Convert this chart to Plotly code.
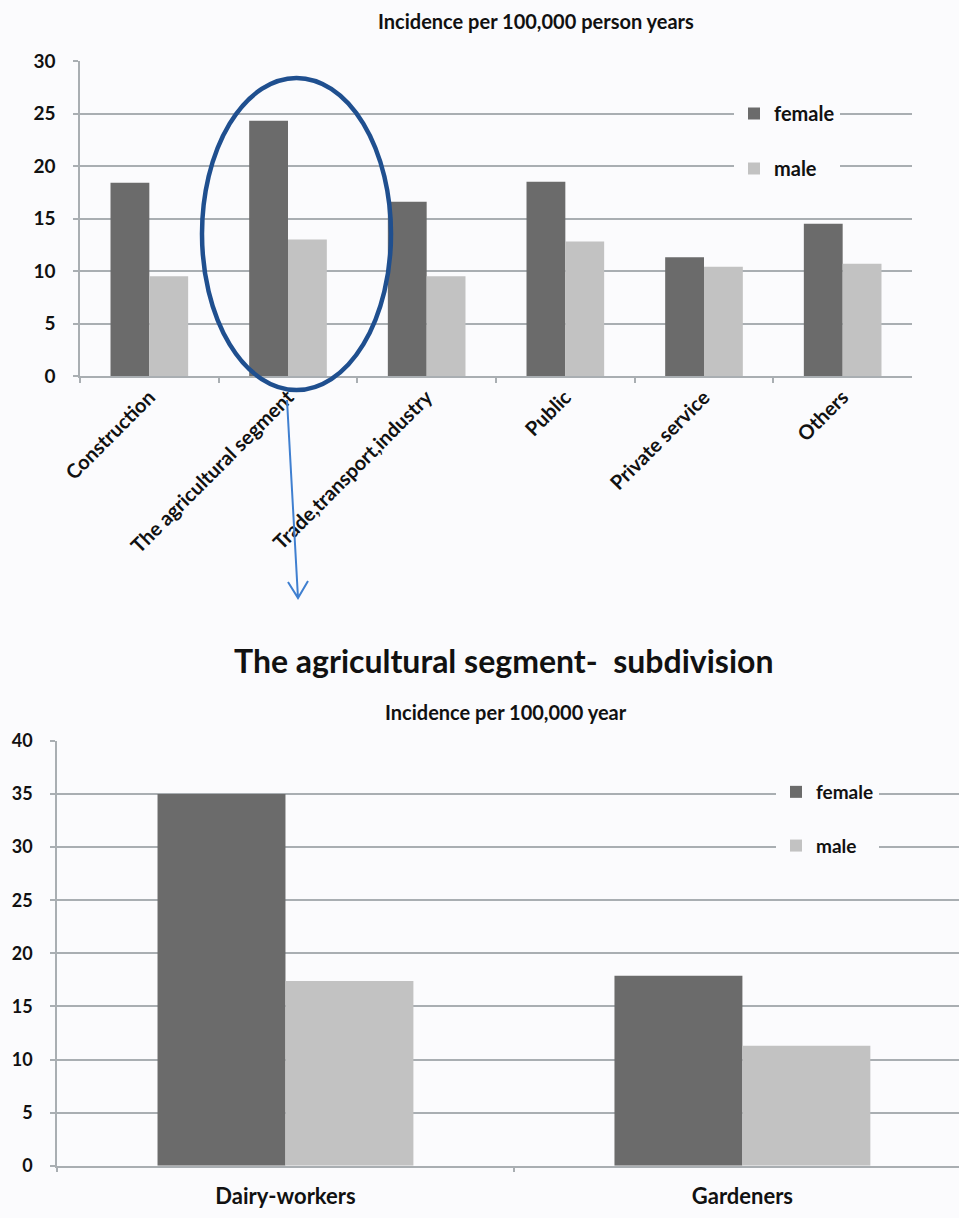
import plotly.graph_objects as go

W, H = 959, 1218

# ---- data ----
top_categories = ["Construction", "The agricultural segment", "Trade,transport,industry",
                  "Public", "Private service", "Others"]
top_female = [18.4, 24.3, 16.6, 18.5, 11.3, 14.5]
top_male = [9.5, 13.0, 9.5, 12.8, 10.4, 10.7]

bottom_categories = ["Dairy-workers", "Gardeners"]
bottom_female = [35.0, 17.9]
bottom_male = [17.4, 11.3]

top_ticks = [0, 5, 10, 15, 20, 25, 30]
bottom_ticks = [0, 5, 10, 15, 20, 25, 30, 35, 40]

FEMALE = "#6b6b6b"
MALE = "#c2c2c2"
GRID = "#a9aeb2"
BG = "#fbfbfd"
TXT = "#111111"
FONT = "Lato"


def px(x):
    return x / W


def py(y):
    return 1 - y / H


fig = go.Figure()

fig.add_trace(go.Bar(name="female", x=top_categories, y=top_female, marker_color=FEMALE,
                     marker_line_width=0, xaxis="x", yaxis="y", legend="legend",
                     legendgroup="f"))
fig.add_trace(go.Bar(name="male", x=top_categories, y=top_male, marker_color=MALE,
                     marker_line_width=0, xaxis="x", yaxis="y", legend="legend",
                     legendgroup="m"))
fig.add_trace(go.Bar(name="female", x=bottom_categories, y=bottom_female, marker_color=FEMALE,
                     marker_line_width=0, xaxis="x2", yaxis="y2", legend="legend2",
                     legendgroup="f2"))
fig.add_trace(go.Bar(name="male", x=bottom_categories, y=bottom_male, marker_color=MALE,
                     marker_line_width=0, xaxis="x2", yaxis="y2", legend="legend2",
                     legendgroup="m2"))

axis_common = dict(showline=True, linecolor=GRID, linewidth=1.5, ticks="outside",
                   tickcolor=GRID, ticklen=5, tickwidth=1.5, zeroline=False,
                   automargin=False)

fig.update_layout(
    width=W, height=H,
    margin=dict(l=0, r=0, t=0, b=0, autoexpand=False),
    paper_bgcolor=BG, plot_bgcolor=BG,
    barmode="group", bargap=0.44, bargroupgap=0,
    font=dict(family=FONT, color=TXT),
    xaxis=dict(domain=[px(80), px(912)], anchor="y", categoryorder="array",
               categoryarray=top_categories, tickson="boundaries", tickangle=-45,
               tickfont=dict(size=20, family=FONT, weight="bold"), showgrid=False,
               range=[-0.5, 5.5], **axis_common),
    yaxis=dict(domain=[py(376), py(61)], anchor="x", range=[0, 30], tickvals=top_ticks,
               showgrid=True, gridcolor=GRID, gridwidth=1.5, ticklabelstandoff=14,
               tickfont=dict(size=19, family=FONT, weight="bold"), **axis_common),
    xaxis2=dict(domain=[px(57), 1], anchor="y2", categoryorder="array",
                categoryarray=bottom_categories, tickson="boundaries", tickangle=0,
                tickfont=dict(size=22, family=FONT, weight="bold"), showgrid=False,
                range=[-0.5, 1.474], ticklabelstandoff=10, **axis_common),
    yaxis2=dict(domain=[py(1165.7), py(741)], anchor="x2", range=[0, 40], tickvals=bottom_ticks,
                showgrid=True, gridcolor=GRID, gridwidth=1.5, ticklabelstandoff=14,
                tickfont=dict(size=18, family=FONT, weight="bold"), **axis_common),
    legend=dict(x=px(734), y=py(94), xanchor="left", yanchor="top", bgcolor=BG,
                font=dict(size=20, family=FONT, weight="bold"), tracegroupgap=26,
                traceorder="grouped", itemwidth=30, entrywidth=126,
                entrywidthmode="pixels"),
    legend2=dict(x=px(776), y=py(773), xanchor="left", yanchor="top", bgcolor=BG,
                 font=dict(size=19, family=FONT, weight="bold"), tracegroupgap=26,
                 traceorder="grouped", itemwidth=30, entrywidth=128,
                 entrywidthmode="pixels"),
)

fig.add_annotation(text="Incidence per 100,000 person years", xref="paper", yref="paper",
                   x=px(536), y=py(21), showarrow=False, xanchor="center", yanchor="middle",
                   font=dict(size=20, family=FONT, weight="bold"))
fig.add_annotation(text="The agricultural segment-  subdivision", xref="paper", yref="paper",
                   x=px(503), y=py(661), showarrow=False, xanchor="center", yanchor="middle",
                   font=dict(size=32, family=FONT, weight="bold"))
fig.add_annotation(text="Incidence per 100,000 year", xref="paper", yref="paper",
                   x=px(506), y=py(712), showarrow=False, xanchor="center", yanchor="middle",
                   font=dict(size=20, family=FONT, weight="bold"))

# highlight ellipse and arrow
fig.add_shape(type="circle", xref="paper", yref="paper",
              x0=px(202), x1=px(391), y0=py(390), y1=py(78),
              line=dict(color="#1f4f8f", width=4.5), layer="above")
arrow_path = (f"M {px(287)} {py(400)} L {px(298)} {py(598)} "
              f"M {px(288)} {py(582)} L {px(298)} {py(598)} L {px(308)} {py(581)}")
fig.add_shape(type="path", xref="paper", yref="paper", path=arrow_path,
              line=dict(color="#3f7fd0", width=2), layer="above")

fig.write_html("out.html")
